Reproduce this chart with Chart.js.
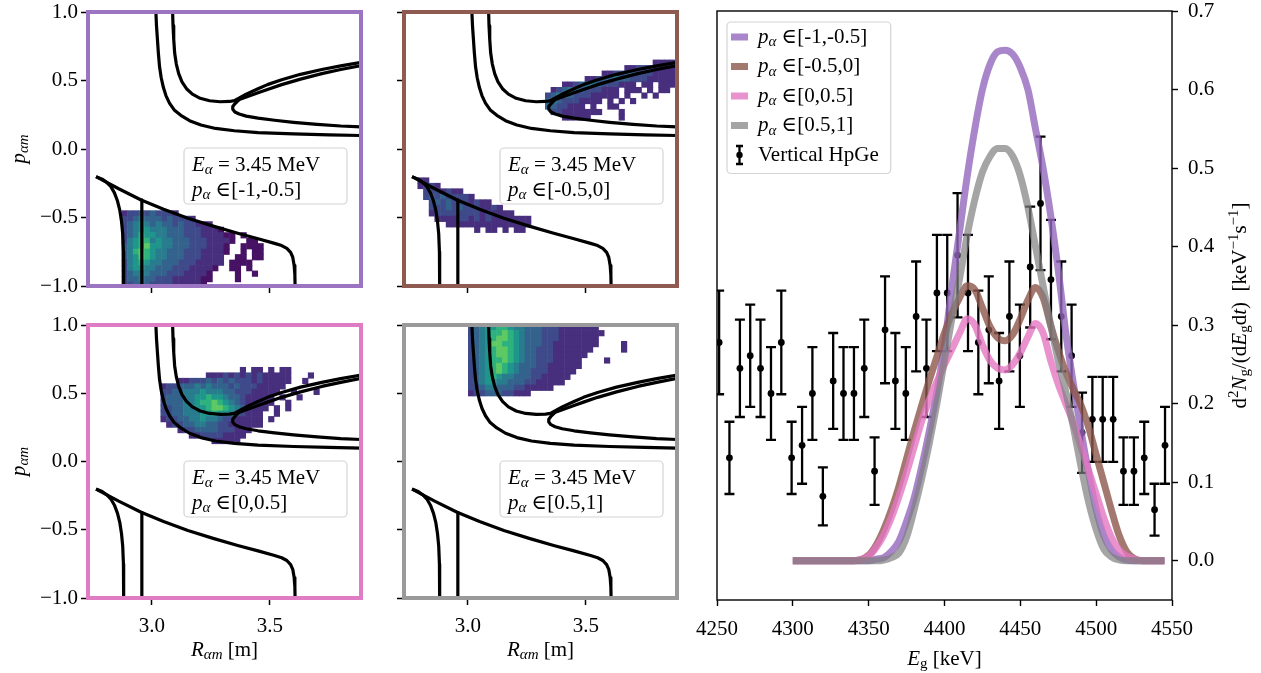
<!DOCTYPE html>
<html>
<head>
<meta charset="utf-8">
<title>Alpha orbits and gamma spectrum</title>
<script src="https://cdn.jsdelivr.net/npm/chart.js@4.4.1/dist/chart.umd.min.js"></script>
<style>
  html, body { margin: 0; padding: 0; background: #fff; }
  #figure { position: relative; width: 1261px; height: 673px; overflow: hidden; background: #fff; }
  #figure canvas { position: absolute; }
</style>
</head>
<body>
<div id="figure">
  <canvas id="panelA" width="380" height="305" style="left:0;top:0"></canvas>
  <canvas id="panelB" width="320" height="305" style="left:380px;top:0"></canvas>
  <canvas id="panelC" width="380" height="368" style="left:0;top:305px"></canvas>
  <canvas id="panelD" width="320" height="368" style="left:380px;top:305px"></canvas>
  <canvas id="spectrum" width="581" height="673" style="left:680px;top:0"></canvas>
</div>
<script>
// ---- spectrum data ----
const binEnergy = [4251.4, 4258.2, 4265.1, 4271.9, 4278.7, 4285.6, 4292.4, 4299.2, 4306.1, 4312.9,
  4319.8, 4326.6, 4333.4, 4340.3, 4347.1, 4353.9, 4360.8, 4367.6, 4374.5, 4381.3,
  4388.1, 4395.0, 4401.8, 4408.6, 4415.5, 4422.3, 4429.2, 4436.0, 4442.8, 4449.7,
  4456.5, 4463.3, 4470.2, 4477.0, 4483.8, 4490.7, 4497.5, 4504.3, 4511.2, 4518.0,
  4524.9, 4531.7, 4538.5, 4545.4];
const binRate = [0.278, 0.131, 0.245, 0.261, 0.245, 0.213, 0.278, 0.131, 0.147, 0.213,
  0.082, 0.229, 0.213, 0.213, 0.245, 0.114, 0.294, 0.229, 0.213, 0.311,
  0.245, 0.341, 0.341, 0.389, 0.341, 0.278, 0.294, 0.229, 0.311, 0.261,
  0.374, 0.455, 0.358, 0.311, 0.261, 0.163, 0.180, 0.180, 0.180, 0.114,
  0.114, 0.131, 0.065, 0.147];
const binErr = [0.066, 0.046, 0.062, 0.065, 0.062, 0.059, 0.066, 0.046, 0.049, 0.059,
  0.037, 0.061, 0.059, 0.059, 0.062, 0.043, 0.068, 0.061, 0.059, 0.070,
  0.062, 0.074, 0.074, 0.079, 0.074, 0.066, 0.068, 0.061, 0.070, 0.065,
  0.077, 0.085, 0.076, 0.070, 0.065, 0.051, 0.054, 0.054, 0.054, 0.043,
  0.043, 0.046, 0.033, 0.049];

const modelEnergy = [4300, 4340, 4350, 4355, 4360, 4365, 4370, 4375, 4380, 4385,
  4390, 4395, 4400, 4405, 4410, 4415, 4420, 4425, 4430, 4435,
  4440, 4445, 4450, 4455, 4460, 4465, 4470, 4475, 4480, 4485,
  4490, 4495, 4500, 4505, 4510, 4515, 4520, 4525, 4530, 4535, 4545];
const modelPitchA = [0, 0, 0, 0.002, 0.004, 0.012, 0.025, 0.05, 0.08, 0.12,
  0.165, 0.215, 0.275, 0.35, 0.42, 0.49, 0.55, 0.60, 0.632, 0.648,
  0.65, 0.645, 0.628, 0.60, 0.55, 0.50, 0.44, 0.37, 0.29, 0.225,
  0.165, 0.112, 0.065, 0.032, 0.014, 0.005, 0.001, 0, 0, 0, 0];
const modelPitchB = [0, 0, 0.007, 0.02, 0.04, 0.065, 0.095, 0.13, 0.165, 0.198,
  0.23, 0.26, 0.29, 0.315, 0.335, 0.35, 0.345, 0.322, 0.298, 0.284,
  0.28, 0.288, 0.308, 0.332, 0.348, 0.335, 0.30, 0.268, 0.24, 0.218,
  0.198, 0.17, 0.135, 0.10, 0.065, 0.033, 0.012, 0.003, 0, 0, 0];
const modelPitchC = [0, 0, 0.006, 0.017, 0.033, 0.055, 0.082, 0.112, 0.145, 0.178,
  0.205, 0.228, 0.25, 0.27, 0.29, 0.308, 0.30, 0.275, 0.255, 0.245,
  0.243, 0.25, 0.265, 0.285, 0.302, 0.29, 0.255, 0.225, 0.20, 0.175,
  0.145, 0.115, 0.085, 0.055, 0.03, 0.014, 0.006, 0.002, 0, 0, 0];
const modelPitchD = [0, 0, 0, 0, 0.001, 0.004, 0.01, 0.03, 0.065, 0.105,
  0.15, 0.20, 0.255, 0.31, 0.36, 0.415, 0.46, 0.495, 0.515, 0.525,
  0.525, 0.515, 0.49, 0.45, 0.40, 0.35, 0.30, 0.255, 0.215, 0.17,
  0.12, 0.075, 0.04, 0.015, 0.005, 0.001, 0, 0, 0, 0, 0];

const pitchBins = ['[-1,-0.5]', '[-0.5,0]', '[0,0.5]', '[0.5,1]'];
const energyTicks = [4250, 4300, 4350, 4400, 4450, 4500, 4550];
const rateTicks = [0, 0.1, 0.2, 0.3, 0.4, 0.5, 0.6, 0.7];

// ---- orbit-space panels ----
const radiusTicks = [3.0, 3.5];
const pitchTicks = [-1, -0.5, 0, 0.5, 1];

// orbit boundaries [R, p], same in all four panels
const sepOuter = [[3.017, 1.02], [3.020, 0.90], [3.024, 0.80], [3.028, 0.70], [3.033, 0.60], [3.040, 0.52],
  [3.049, 0.45], [3.060, 0.39], [3.075, 0.335], [3.095, 0.285], [3.123, 0.246], [3.16, 0.207],
  [3.208, 0.175], [3.27, 0.150], [3.35, 0.133], [3.45, 0.120], [3.60, 0.110], [3.75, 0.103], [3.90, 0.098]];
const sepInner = [[3.088, 1.02], [3.090, 0.90], [3.093, 0.80], [3.097, 0.70], [3.104, 0.62], [3.114, 0.55],
  [3.128, 0.49], [3.147, 0.44], [3.172, 0.400], [3.205, 0.370], [3.245, 0.352], [3.29, 0.345],
  [3.33, 0.347], [3.35, 0.353], [3.40, 0.40], [3.45, 0.44], [3.49, 0.47], [3.55, 0.505],
  [3.63, 0.545], [3.72, 0.58], [3.80, 0.607], [3.90, 0.637]];
const lensLower = [[3.35, 0.348], [3.40, 0.38], [3.45, 0.41], [3.49, 0.435], [3.55, 0.47],
  [3.63, 0.51], [3.72, 0.55], [3.80, 0.58], [3.90, 0.613]];
const trappedLoop = [[3.37, 0.36], [3.352, 0.33], [3.343, 0.31], [3.343, 0.29], [3.352, 0.27],
  [3.37, 0.255], [3.40, 0.24], [3.45, 0.225], [3.52, 0.21], [3.60, 0.195], [3.70, 0.18],
  [3.80, 0.168], [3.90, 0.16]];
const lostTop = [[2.764, -0.202], [2.86, -0.29], [2.955, -0.372], [3.05, -0.44], [3.153, -0.506],
  [3.26, -0.563], [3.364, -0.615], [3.45, -0.655], [3.52, -0.689], [3.55, -0.705], [3.572, -0.725],
  [3.588, -0.755], [3.597, -0.79], [3.603, -0.85], [3.606, -0.92], [3.607, -1.02]];
const lostLeft = [[2.764, -0.202], [2.79, -0.22], [2.81, -0.245], [2.827, -0.275], [2.842, -0.32],
  [2.855, -0.38], [2.865, -0.45], [2.872, -0.53], [2.877, -0.62], [2.88, -0.75], [2.881, -1.02]];
const wallLine = [[2.958, -0.372], [2.958, -1.02]];
const orbitCurves = [sepOuter, sepInner, lensLower, trappedLoop, lostTop, lostLeft, wallLine];

// histogram cells: one digit per bin (0-9 density level), rows go down in p
const heatStepR = 0.024;
const heatStepP = 0.04;
const heatA = [
  "2334343332..................",
  "3345444343332...............",
  "3456545443433222............",
  "345665554443332221..........",
  "34576655444333222211.1......",
  "35677565544433322221..11....",
  "4567866554443332221..1111...",
  "4578765544433322221..1.11...",
  "456876554443332222..11.11...",
  "356765544433322222.1111.....",
  "35665544433322221..11.1.....",
  "3455544433322221....1..1....",
  "3445443332222211....1.......",
  "334443333222221............."
];
const heatBLower = [
  "22..................",
  "2332................",
  ".3332322............",
  ".343433332..........",
  "..34343332322.......",
  "..3334343332232.....",
  "..233333333232222...",
  "...22223323232222222",
  ".....222222222222222",
  "..........2.22.2.22."
];
const heatBUpper = [
  "...................2222",
  "..............223332222",
  "..........2233443332222",
  ".......2234454433322222",
  "...2234554333222.22.222",
  ".234554333222.222.2.22.",
  "3455433322222.2..2.2...",
  "4543332222.2.2.2.......",
  "4433222.2..22..........",
  ".332222222...2.........",
  "...22222.....2........."
];
const heatC = [
  "..............2.22.2.22.....",
  "........222323232322222...2.",
  "...22333434343332322222..2..",
  "2334445454443433322222......",
  "334455565554433322222..2...2",
  "34445566766544322222.2..2...",
  "34445567787654322222..2.....",
  "3344556678876542222.2.2.....",
  "334455566766543222..2.......",
  "233445565543322222.2........",
  ".23344554433222222..........",
  "...2334444333222............",
  ".....2233332222.............",
  ".........22222.............."
];
const heatD = [
  "34566776554443332222222.....",
  "345677876544433322222222....",
  "34567887654443332222222.....",
  "34568877654443322222222....2",
  "3456788765443332222222.....2",
  "345678876544333222222.......",
  "34567787654433322222....2...",
  "34567876544433222222........",
  "3456787654433322222.........",
  "345676554443322222..........",
  "34566554443322222...........",
  "334554443322222.............",
  "23344433222................."
];
// bin origin (R, p) of each grid
const heatOriginA = [2.885, -0.47];
const heatOriginBLower = [2.80, -0.23];
const heatOriginBUpper = [3.34, 0.63];
const heatOriginC = [3.05, 0.67];
const heatOriginD = [3.014, 0.98];

const viridis = ['#ffffff', '#471164', '#472f7d', '#3e4a89', '#33638d', '#287c8e', '#1f968b', '#2db27d', '#5ec962', '#a0da39'];
const modelColors = ['rgba(148,103,189,0.8)', 'rgba(140,86,75,0.8)', 'rgba(227,119,194,0.8)', 'rgba(127,127,127,0.7)'];
const frameColors = ['#9b74c2', '#8f5b50', '#e07cc4', '#9a9a9a'];

const SERIF = '"Liberation Serif", "DejaVu Serif", serif';
const FS = 21;

// ---- small math-text helper ----
function fontFor(style, size) {
  const small = style === 's' || style === 'sr' || style === 'sup';
  const italic = style === 'i' || style === 's';
  return (italic ? 'italic ' : '') + (small ? Math.round(size * 0.7) : size) + 'px ' + SERIF;
}
function mathWidth(ctx, parts, size) {
  let w = 0;
  for (const [t, s] of parts) { ctx.font = fontFor(s, size); w += ctx.measureText(t).width; }
  return w;
}
function drawMath(ctx, parts, x, y, size, align) {
  ctx.save();
  ctx.textAlign = 'left';
  ctx.textBaseline = 'middle';
  ctx.fillStyle = '#000';
  const w = mathWidth(ctx, parts, size);
  let cx = align === 'center' ? x - w / 2 : (align === 'right' ? x - w : x);
  for (const [t, s] of parts) {
    ctx.font = fontFor(s, size);
    let dy = 0;
    if (s === 's' || s === 'sr') dy = size * 0.25;
    if (s === 'sup') dy = -size * 0.3;
    ctx.fillText(t, cx, y + dy);
    cx += ctx.measureText(t).width;
  }
  ctx.restore();
  return w;
}
const pitchLabel = b => [['p', 'i'], ['α', 's'], [' \u2208' + b, 'r']];
const energyLabel = [['E', 'i'], ['α', 's'], [' = 3.45 MeV', 'r']];
const labelR = [['R', 'i'], ['αm', 's'], [' [m]', 'r']];
const labelP = [['p', 'i'], ['αm', 's']];
const labelEg = [['E', 'i'], ['g', 'sr'], [' [keV]', 'r']];
const labelRate = [['d', 'r'], ['2', 'sup'], ['N', 'i'], ['g', 'sr'], ['/(d', 'r'], ['E', 'i'], ['g', 'sr'],
  ['d', 'r'], ['t', 'i'], [')  [keV', 'r'], ['\u22121', 'sup'], ['s', 'r'], ['\u22121', 'sup'], [']', 'r']];

function fmtTick(v) {
  return (Math.abs(v) < 1e-9 ? 0 : v).toFixed(1).replace('-', '\u2212');
}

function roundBox(ctx, x, y, w, h, r) {
  ctx.beginPath();
  ctx.moveTo(x + r, y);
  ctx.arcTo(x + w, y, x + w, y + h, r);
  ctx.arcTo(x + w, y + h, x, y + h, r);
  ctx.arcTo(x, y + h, x, y, r);
  ctx.arcTo(x, y, x + w, y, r);
  ctx.closePath();
  ctx.fillStyle = 'rgba(255,255,255,0.85)';
  ctx.fill();
  ctx.strokeStyle = '#d4d4d4';
  ctx.lineWidth = 1.2;
  ctx.stroke();
}

function heatPoints(rows, origin) {
  const pts = [];
  rows.forEach((row, i) => {
    for (let k = 0; k < row.length; k++) {
      const d = row.charCodeAt(k) - 48;
      if (d > 0 && d <= 9) pts.push({ x: origin[0] + k * heatStepR, y: origin[1] - i * heatStepP, v: d });
    }
  });
  return pts;
}

function cellRadius(chart) {
  const x = chart.scales.x, y = chart.scales.y;
  const w = Math.abs(x.getPixelForValue(heatStepR) - x.getPixelForValue(0));
  const h = Math.abs(y.getPixelForValue(heatStepP) - y.getPixelForValue(0));
  return (Math.max(w, h) + 0.5) / Math.SQRT2;
}

// keep the plot box exactly where the layout puts it
function noOverflow(ax) {
  ax.paddingLeft = 0; ax.paddingRight = 0; ax.paddingTop = 0; ax.paddingBottom = 0;
}

const panelDecor = {
  id: 'panelDecor',
  afterDraw(chart, args, o) {
    const { ctx, chartArea: a } = chart;
    // annotation box
    const bx = a.left + 96, by = a.top + 136;
    ctx.save();
    roundBox(ctx, bx, by, 163, 56, 4);
    ctx.restore();
    drawMath(ctx, energyLabel, bx + 8, by + 17, FS, 'left');
    drawMath(ctx, pitchLabel(pitchBins[o.bin]), bx + 8, by + 42, FS, 'left');
    // coloured frame
    ctx.save();
    ctx.strokeStyle = o.color;
    ctx.lineWidth = 4;
    ctx.strokeRect(a.left, a.top, a.width, a.height);
    ctx.restore();
    if (o.yTitle) {
      ctx.save();
      ctx.translate(19, (a.top + a.bottom) / 2);
      ctx.rotate(-Math.PI / 2);
      drawMath(ctx, labelP, 0, 0, FS, 'center');
      ctx.restore();
    }
    if (o.xTitle) drawMath(ctx, labelR, (a.left + a.right) / 2, 345, FS, 'center');
  }
};

function axisConf(isX, min, max, ticksArr, showLabels, size, pos) {
  return {
    type: 'linear', min, max, position: pos,
    afterBuildTicks: ax => { ax.ticks = ticksArr.map(v => ({ value: v })); },
    afterFit: ax => { if (isX) ax.height = size; else ax.width = size; noOverflow(ax); },
    ticks: {
      display: showLabels, color: '#000', autoSkip: false, maxRotation: 0,
      font: { family: SERIF, size: FS }, padding: isX ? 9 : 3,
      callback: v => fmtTick(v)
    },
    grid: { drawOnChartArea: false, drawTicks: true, tickLength: 7, tickWidth: 1.5, tickColor: '#000' },
    border: { display: false }
  };
}

const panelSetup = [
  { id: 'panelA', bin: 0, heat: [[heatA, heatOriginA]], yLab: true, xLab: false, pad: [0, 12, 19, 7], yW: 88, xH: 12 },
  { id: 'panelB', bin: 1, heat: [[heatBLower, heatOriginBLower], [heatBUpper, heatOriginBUpper]], yLab: false, xLab: false, pad: [0, 12, 23, 7], yW: 24, xH: 12 },
  { id: 'panelC', bin: 2, heat: [[heatC, heatOriginC]], yLab: true, xLab: true, pad: [0, 20, 19, 0], yW: 88, xH: 75 },
  { id: 'panelD', bin: 3, heat: [[heatD, heatOriginD]], yLab: false, xLab: true, pad: [0, 20, 23, 0], yW: 24, xH: 75 }
];

panelSetup.forEach(p => {
  const datasets = [];
  p.heat.forEach(([rows, origin]) => datasets.push({
    data: heatPoints(rows, origin),
    pointStyle: 'rect',
    pointRadius: c => cellRadius(c.chart),
    pointBorderWidth: 0,
    pointBackgroundColor: c => viridis[c.raw ? c.raw.v : 1],
    order: 5
  }));
  orbitCurves.forEach(curve => datasets.push({
    data: curve.map(([x, y]) => ({ x, y })),
    showLine: true, pointRadius: 0, borderColor: '#000', borderWidth: 3.2,
    borderJoinStyle: 'round', tension: 0, order: 1
  }));
  new Chart(document.getElementById(p.id), {
    type: 'scatter',
    data: { datasets },
    plugins: [panelDecor],
    options: {
      responsive: false, animation: false, events: [],
      layout: { padding: { left: p.pad[0], top: p.pad[1], right: p.pad[2], bottom: p.pad[3] } },
      scales: {
        x: axisConf(true, 2.73, 3.886, radiusTicks, p.xLab, p.xH, 'bottom'),
        y: axisConf(false, -1, 1, pitchTicks, p.yLab, p.yW, 'left')
      },
      plugins: {
        legend: { display: false }, tooltip: { enabled: false },
        panelDecor: { bin: p.bin, color: frameColors[p.bin], yTitle: p.yLab, xTitle: p.xLab }
      }
    }
  });
});

// ---- spectrum panel ----
const errorBars = {
  id: 'errorBars',
  beforeDatasetsDraw(chart) {
    const { ctx, chartArea: a, scales: { x, y } } = chart;
    ctx.save();
    ctx.beginPath();
    ctx.rect(a.left, a.top, a.width, a.height);
    ctx.clip();
    ctx.strokeStyle = '#000';
    ctx.lineWidth = 2.3;
    binEnergy.forEach((e, i) => {
      const px = x.getPixelForValue(e);
      const lo = y.getPixelForValue(binRate[i] - binErr[i]);
      const hi = y.getPixelForValue(binRate[i] + binErr[i]);
      ctx.beginPath();
      ctx.moveTo(px, lo); ctx.lineTo(px, hi);
      ctx.moveTo(px - 5, lo); ctx.lineTo(px + 5, lo);
      ctx.moveTo(px - 5, hi); ctx.lineTo(px + 5, hi);
      ctx.stroke();
    });
    ctx.restore();
  }
};

const spectrumDecor = {
  id: 'spectrumDecor',
  afterDraw(chart) {
    const { ctx, chartArea: a } = chart;
    ctx.save();
    ctx.strokeStyle = '#000';
    ctx.lineWidth = 1.4;
    ctx.strokeRect(a.left, a.top, a.width, a.height);
    ctx.restore();

    // legend
    const x0 = a.left + 10, y0 = a.top + 11, rowH = 29.5, textX = x0 + 31;
    let maxW = 0;
    pitchBins.forEach(b => { maxW = Math.max(maxW, mathWidth(ctx, pitchLabel(b), FS)); });
    maxW = Math.max(maxW, mathWidth(ctx, [['Vertical HpGe', 'r']], FS));
    ctx.save();
    roundBox(ctx, x0, y0, 31 + maxW + 12, rowH * 5 + 4, 4);
    ctx.restore();
    pitchBins.forEach((b, i) => {
      const cy = y0 + 15 + i * rowH;
      ctx.fillStyle = modelColors[i];
      ctx.fillRect(x0 + 4, cy - 3.5, 17, 7);
      drawMath(ctx, pitchLabel(b), textX, cy, FS, 'left');
    });
    const cy = y0 + 15 + 4 * rowH;
    const hx = x0 + 12.5;
    ctx.save();
    ctx.strokeStyle = '#000';
    ctx.lineWidth = 2.3;
    ctx.beginPath();
    ctx.moveTo(hx, cy - 9); ctx.lineTo(hx, cy + 9);
    ctx.moveTo(hx - 3.5, cy - 9); ctx.lineTo(hx + 3.5, cy - 9);
    ctx.moveTo(hx - 3.5, cy + 9); ctx.lineTo(hx + 3.5, cy + 9);
    ctx.stroke();
    ctx.beginPath();
    ctx.arc(hx, cy, 3.2, 0, Math.PI * 2);
    ctx.fillStyle = '#000';
    ctx.fill();
    ctx.restore();
    drawMath(ctx, [['Vertical HpGe', 'r']], textX, cy, FS, 'left');

    // axis titles
    drawMath(ctx, labelEg, (a.left + a.right) / 2, 659, FS, 'center');
    ctx.save();
    ctx.translate(a.right + 68, (a.top + a.bottom) / 2);
    ctx.rotate(-Math.PI / 2);
    drawMath(ctx, labelRate, 0, 0, FS, 'center');
    ctx.restore();
  }
};

const modelSeries = [modelPitchA, modelPitchB, modelPitchC, modelPitchD];

new Chart(document.getElementById('spectrum'), {
  type: 'scatter',
  data: {
    datasets: [
      ...modelSeries.map((m, i) => ({
        label: 'p_alpha ' + pitchBins[i],
        data: modelEnergy.map((e, k) => ({ x: e, y: m[k] })),
        showLine: true, pointRadius: 0, borderColor: modelColors[i], borderWidth: 7,
        cubicInterpolationMode: 'monotone', borderJoinStyle: 'round', order: 4 - i
      })),
      {
        label: 'Vertical HpGe',
        data: binEnergy.map((e, k) => ({ x: e, y: binRate[k] })),
        pointRadius: 3.4, pointBackgroundColor: '#000', pointBorderWidth: 0, order: 9
      }
    ]
  },
  plugins: [errorBars, spectrumDecor],
  options: {
    responsive: false, animation: false, events: [],
    layout: { padding: { left: 37, top: 11, right: 0, bottom: 0 } },
    scales: {
      x: {
        type: 'linear', min: 4250, max: 4550, position: 'bottom',
        afterBuildTicks: ax => { ax.ticks = energyTicks.map(v => ({ value: v })); },
        afterFit: ax => { ax.height = 73; noOverflow(ax); },
        ticks: { color: '#000', autoSkip: false, maxRotation: 0, font: { family: SERIF, size: FS }, padding: 11, callback: v => String(v) },
        grid: { drawOnChartArea: false, drawTicks: true, tickLength: 6, tickWidth: 1.4, tickColor: '#000' },
        border: { display: false }
      },
      y: {
        type: 'linear', min: -0.05, max: 0.7, position: 'right',
        afterBuildTicks: ax => { ax.ticks = rateTicks.map(v => ({ value: v })); },
        afterFit: ax => { ax.width = 89; noOverflow(ax); },
        ticks: { color: '#000', autoSkip: false, font: { family: SERIF, size: FS }, padding: 10, callback: v => fmtTick(v) },
        grid: { drawOnChartArea: false, drawTicks: true, tickLength: 6, tickWidth: 1.4, tickColor: '#000' },
        border: { display: false }
      }
    },
    plugins: { legend: { display: false }, tooltip: { enabled: false } }
  }
});
</script>
</body>
</html>
